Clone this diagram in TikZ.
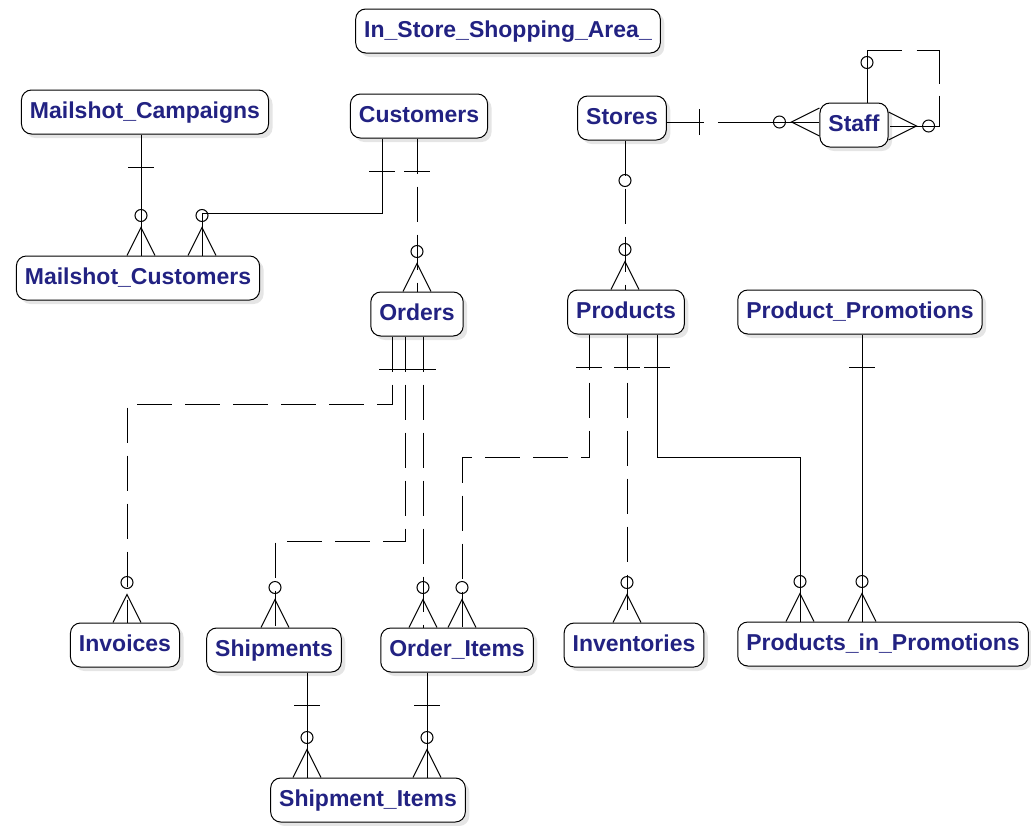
\documentclass[tikz,border=0pt]{standalone}
\usepackage{fontspec}
\setmainfont{Liberation Sans}
\usetikzlibrary{shadows}

\definecolor{entblue}{RGB}{34,34,130}

\tikzset{
  ent/.style={draw, line width=1pt, rounded corners=10pt, fill=white,
    drop shadow={shadow xshift=4pt, shadow yshift=-4pt, fill=black!20},
    minimum height=44pt, inner xsep=8.5pt, text height=17pt, text depth=5pt,
    text=entblue, font=\fontsize{23}{27}\selectfont\bfseries},
  nid/.style={dash pattern=on 35pt off 13pt},
  zmany/.pic={\draw (0,-40) circle (6pt); \draw (-14,0) -- (0,-28) -- (14,0);},
  zcirc/.pic={\draw (0,-40) circle (6pt);},
  onebar/.pic={\draw (-13,33) -- (13,33);}
}

\begin{document}
\begin{tikzpicture}[x=1pt, y=-1pt, line width=1pt]

\useasboundingbox (0,0) rectangle (1031,825);

% entities
\node [ent] (isa)  at (508,31)  {In\_Store\_Shopping\_Area\_};
\node [ent] (mcam) at (145,112) {Mailshot\_Campaigns};
\node [ent] (cust) at (419,116) {Customers};
\node [ent] (sto)  at (622,118) {Stores};
\node [ent] (stf)  at (854,125) {Staff};
\node [ent] (mcus) at (138,278) {Mailshot\_Customers};
\node [ent] (ord)  at (417,314) {Orders};
\node [ent] (prod) at (626,312) {Products};
\node [ent] (ppro) at (860,312) {Product\_Promotions};
\node [ent] (inv)  at (125,645) {Invoices};
\node [ent] (shp)  at (274,650) {Shipments};
\node [ent] (oit)  at (457,650) {Order\_Items};
\node [ent] (ivt)  at (634,645) {Inventories};
\node [ent] (pip)  at (883,644) {Products\_in\_Promotions};
\node [ent] (sit)  at (368,800) {Shipment\_Items};

% identifying relationships
\draw (mcam.south -| 141,0) -- (mcus.north -| 141,0);
\pic at (mcam.south -| 141,0) {onebar};
\pic at (mcus.north -| 141,0) {zmany};

\draw (cust.south -| 382,0) |- (202,213) -- (mcus.north -| 202,0);
\pic at (cust.south -| 382,0) {onebar};
\pic at (mcus.north -| 202,0) {zmany};

\draw (prod.south -| 657,0) |- (800,457) -- (pip.north -| 800,0);
\pic at (prod.south -| 657,0) {onebar};
\pic at (pip.north -| 800,0) {zmany};

\draw (ppro.south -| 862,0) -- (pip.north -| 862,0);
\pic at (ppro.south -| 862,0) {onebar};
\pic at (pip.north -| 862,0) {zmany};

\draw (shp.south -| 307,0) -- (sit.north -| 307,0);
\pic at (shp.south -| 307,0) {onebar};
\pic at (sit.north -| 307,0) {zmany};

\draw (oit.south -| 427,0) -- (sit.north -| 427,0);
\pic at (oit.south -| 427,0) {onebar};
\pic at (sit.north -| 427,0) {zmany};

% non-identifying relationships
\begin{scope}[nid]
\draw (cust.south -| 417,0) -- (ord.north -| 417,0);
\draw (sto.south -| 625,0) -- (prod.north -| 625,0);

\draw (ord.south -| 392,0) |- (127,404) -- (inv.north -| 127,0);
\draw (ord.south -| 405,0) |- (275,541) -- (shp.north -| 275,0);
\draw (ord.south -| 423,0) -- (oit.north -| 423,0);

\draw (prod.south -| 589,0) |- (462,457) -- (oit.north -| 462,0);
\draw (prod.south -| 627,0) -- (ivt.north -| 627,0);
\end{scope}

\draw [dash pattern=on 37pt off 14pt on 200pt] (sto.east |- 0,122) -- (stf.west |- 0,122);
\draw [dash pattern=on 87pt off 15pt on 56pt off 12pt on 80pt]
  (stf.north -| 867,0) -- (867,50) -- (939,50) -- (939,126) -- (stf.east |- 0,126);

\pic at (cust.south -| 417,0) {onebar};
\pic at (ord.north -| 417,0) {zmany};
\pic [rotate=90] at (sto.east |- 0,122) {onebar};
\pic [rotate=90] at (stf.west |- 0,122) {zmany};
\pic [rotate=180] at (sto.south -| 625,0) {zcirc};
\pic at (prod.north -| 625,0) {zmany};
\pic at (stf.north -| 867,0) {zcirc};
\pic [rotate=-90] at (stf.east |- 0,126) {zmany};

\foreach \x in {392,405,423} {
  \pic at (ord.south -| \x,0) {onebar};
}
\pic at (inv.north -| 127,0) {zmany};
\pic at (shp.north -| 275,0) {zmany};
\pic at (oit.north -| 423,0) {zmany};

\foreach \x in {589,627} {
  \pic at (prod.south -| \x,0) {onebar};
}
\pic at (oit.north -| 462,0) {zmany};
\pic at (ivt.north -| 627,0) {zmany};

\end{tikzpicture}
\end{document}
